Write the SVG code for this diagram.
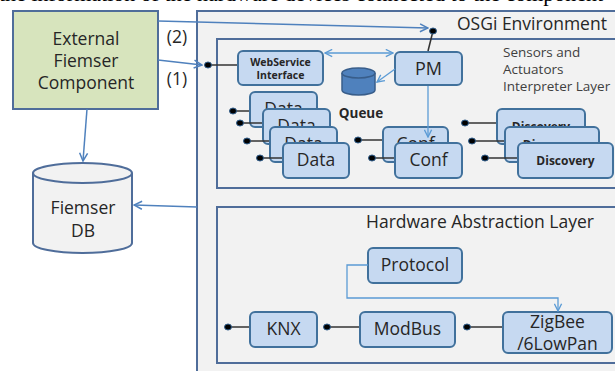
<svg xmlns="http://www.w3.org/2000/svg" width="615" height="371" viewBox="0 0 615 371">
<style>
text{font-family:"Open Sans","Liberation Sans",sans-serif;fill:#262626}
.lbl{font-size:17.5px;text-anchor:middle}
.box{fill:#c6d9f1;stroke:#41719c;stroke-width:2}
.cn{fill:none;stroke:#5b9bd5;stroke-width:1.3}
.cd{fill:none;stroke:#4f81bd;stroke-width:1.5}
.pin{stroke:#333;stroke-width:1.5;fill:none}
.dot{fill:#000;stroke:#2e5c8a;stroke-width:1}
.b{font-weight:bold}
</style>
<defs>
<marker id="a" viewBox="0 0 10 10" refX="9" refY="5" markerWidth="9" markerHeight="9" markerUnits="userSpaceOnUse" orient="auto-start-reverse">
<polyline points="1,1 9,5 1,9" fill="none" stroke="#5b9bd5" stroke-width="1.5"/>
</marker>
<marker id="ad" viewBox="0 0 10 10" refX="9" refY="5" markerWidth="10" markerHeight="10" markerUnits="userSpaceOnUse" orient="auto-start-reverse">
<polyline points="1,1 9,5 1,9" fill="none" stroke="#4f81bd" stroke-width="1.5"/>
</marker>
</defs>
<rect width="615" height="371" fill="#fff"/>
<text x="-1" y="0.5" style="font-family:'Liberation Serif',serif;font-size:22px;fill:#000">the information of the hardware devices connected to the component</text>

<g id="osgi">
<rect x="197" y="11" width="430" height="370" fill="#f2f2f2" stroke="#4f6d9a" stroke-width="2"/>
<text x="457" y="30" style="font-size:17.5px">OSGi Environment</text>
</g>
<g id="sail">
<rect x="217" y="39" width="410" height="149" fill="#f2f2f2" stroke="#4f6d9a" stroke-width="2"/>
<text x="503" y="57" style="font-size:13.5px;fill:#404040">Sensors and</text>
<text x="503" y="74" style="font-size:13.5px;fill:#404040">Actuators</text>
<text x="503" y="91" style="font-size:13.5px;fill:#404040">Interpreter Layer</text>
</g>
<g id="hal">
<rect x="217" y="207" width="410" height="156" fill="#f2f2f2" stroke="#4f6d9a" stroke-width="2"/>
<text x="366" y="228" style="font-size:17.5px">Hardware Abstraction Layer</text>
</g>

<g id="external">
<rect x="13" y="11" width="145" height="98" fill="#d7e4bd" stroke="#4f6d9a" stroke-width="2"/>
<text class="lbl" x="86" y="45">External</text>
<text class="lbl" x="86" y="67">Fiemser</text>
<text class="lbl" x="86" y="89">Component</text>
</g>
<g id="fiemserdb">
<path d="M33,173 V243 A49.5,10 0 0 0 132,243 V173" fill="#f2f2f2" stroke="#4f6d9a" stroke-width="2"/>
<ellipse cx="82.5" cy="173" rx="49.5" ry="10" fill="#f2f2f2" stroke="#4f6d9a" stroke-width="2"/>
<text class="lbl" x="83" y="214">Fiemser</text>
<text class="lbl" x="83" y="237">DB</text>
</g>

<g id="webservice">
<rect class="box" x="238" y="51" width="85" height="34" rx="5"/>
<text class="b" x="280.5" y="66" style="font-size:10.5px;text-anchor:middle">WebService</text>
<text class="b" x="280.5" y="79" style="font-size:10.5px;text-anchor:middle">Interface</text>
</g>
<g id="pm">
<rect class="box" x="395" y="52" width="67" height="33" rx="5"/>
<text class="lbl" x="428.5" y="75" style="font-size:18px">PM</text>
</g>
<g id="queue">
<path d="M342,73 V90 A16.5,5 0 0 0 375,90 V73" fill="#4f81bd" stroke="#385d8a" stroke-width="1.5"/>
<ellipse cx="358.5" cy="73" rx="16.5" ry="5" fill="#4f81bd" stroke="#385d8a" stroke-width="1.5"/>
<text class="b" x="361" y="118" style="font-size:13.5px;text-anchor:middle">Queue</text>
</g>
<g id="data1"><rect class="box" x="250" y="92" width="67" height="35" rx="5"/><text class="lbl" x="283.5" y="115">Data</text></g>
<g id="data2"><rect class="box" x="263" y="109" width="67" height="35" rx="5"/><text class="lbl" x="296.5" y="132">Data</text></g>
<g id="data3"><rect class="box" x="270" y="127" width="67" height="35" rx="5"/><text class="lbl" x="303.5" y="150">Data</text></g>
<g id="data4"><rect class="box" x="283" y="143" width="66" height="35" rx="5"/><text class="lbl" x="316" y="166">Data</text></g>
<g id="conf1"><rect class="box" x="383" y="127" width="65" height="35" rx="5"/><text class="lbl" x="415.5" y="150">Conf</text></g>
<g id="conf2"><rect class="box" x="395" y="143" width="67" height="35" rx="5"/><text class="lbl" x="428.5" y="166">Conf</text></g>
<g id="discovery1"><rect class="box" x="497" y="109" width="88" height="35" rx="5"/><text class="b" x="541" y="131" style="font-size:12px;text-anchor:middle">Discovery</text></g>
<g id="discovery2"><rect class="box" x="505" y="127" width="94" height="35" rx="5"/><text class="b" x="552" y="149" style="font-size:12px;text-anchor:middle">Discovery</text></g>
<g id="discovery3"><rect class="box" x="518" y="143" width="95" height="35" rx="5"/><text class="b" x="565.5" y="165" style="font-size:12px;text-anchor:middle">Discovery</text></g>
<g id="protocol"><rect class="box" x="368" y="248" width="94" height="35" rx="5"/><text class="lbl" x="415" y="271">Protocol</text></g>
<g id="knx"><rect class="box" x="250" y="312" width="67" height="35" rx="5"/><text class="lbl" x="283.5" y="335">KNX</text></g>
<g id="modbus"><rect class="box" x="360" y="312" width="95" height="35" rx="5"/><text class="lbl" x="407.5" y="335">ModBus</text></g>
<g id="zigbee"><rect class="box" x="503" y="312" width="109" height="41" rx="5"/><text class="lbl" x="557.5" y="328">ZigBee</text><text class="lbl" x="557.5" y="350">/6LowPan</text></g>

<g id="connectors">
<line class="cd" x1="158" y1="21" x2="428" y2="28" marker-end="url(#ad)"/>
<line class="cd" x1="158" y1="60" x2="202" y2="65" marker-end="url(#ad)"/>
<line class="cd" x1="87" y1="109" x2="83" y2="161" marker-end="url(#ad)"/>
<line class="cd" x1="197" y1="207" x2="134" y2="205" marker-end="url(#ad)"/>
<line class="cn" x1="325" y1="53" x2="393" y2="53" marker-start="url(#a)" marker-end="url(#a)"/>
<line class="cn" x1="395" y1="69" x2="377" y2="82" marker-end="url(#a)"/>
<line class="cn" x1="428" y1="86" x2="428" y2="137" marker-end="url(#a)"/>
<polyline class="cn" points="368,265 347,265 347,298 558,298 558,311" marker-end="url(#a)"/>
<line class="pin" x1="433" y1="31" x2="428" y2="51"/>
<line class="pin" x1="208" y1="65" x2="237" y2="65"/>
<line class="pin" x1="233" y1="111" x2="249" y2="111"/>
<line class="pin" x1="240" y1="123" x2="262" y2="123"/>
<line class="pin" x1="247" y1="141" x2="269" y2="141"/>
<line class="pin" x1="260" y1="158" x2="282" y2="158"/>
<line class="pin" x1="358" y1="140" x2="382" y2="140"/>
<line class="pin" x1="372" y1="158" x2="394" y2="158"/>
<line class="pin" x1="465" y1="123" x2="496" y2="123"/>
<line class="pin" x1="472" y1="141" x2="504" y2="141"/>
<line class="pin" x1="485" y1="158" x2="517" y2="158"/>
<line class="pin" x1="228" y1="327" x2="249" y2="327"/>
<line class="pin" x1="327" y1="327" x2="359" y2="327"/>
<line class="pin" x1="467" y1="327" x2="502" y2="327"/>
<ellipse class="dot" cx="433" cy="31" rx="3.5" ry="3"/>
<ellipse class="dot" cx="208" cy="65" rx="3.5" ry="3"/>
<ellipse class="dot" cx="233" cy="111" rx="3.5" ry="3"/>
<ellipse class="dot" cx="240" cy="123" rx="3.5" ry="3"/>
<ellipse class="dot" cx="247" cy="141" rx="3.5" ry="3"/>
<ellipse class="dot" cx="260" cy="158" rx="3.5" ry="3"/>
<ellipse class="dot" cx="358" cy="140" rx="3.5" ry="3"/>
<ellipse class="dot" cx="372" cy="158" rx="3.5" ry="3"/>
<ellipse class="dot" cx="465" cy="123" rx="3.5" ry="3"/>
<ellipse class="dot" cx="472" cy="141" rx="3.5" ry="3"/>
<ellipse class="dot" cx="485" cy="158" rx="3.5" ry="3"/>
<ellipse class="dot" cx="228" cy="327" rx="3.5" ry="3"/>
<ellipse class="dot" cx="327" cy="327" rx="3.5" ry="3"/>
<ellipse class="dot" cx="467" cy="327" rx="3.5" ry="3"/>
<text class="lbl" x="177" y="43">(2)</text>
<text class="lbl" x="177" y="85">(1)</text>
</g>
</svg>
